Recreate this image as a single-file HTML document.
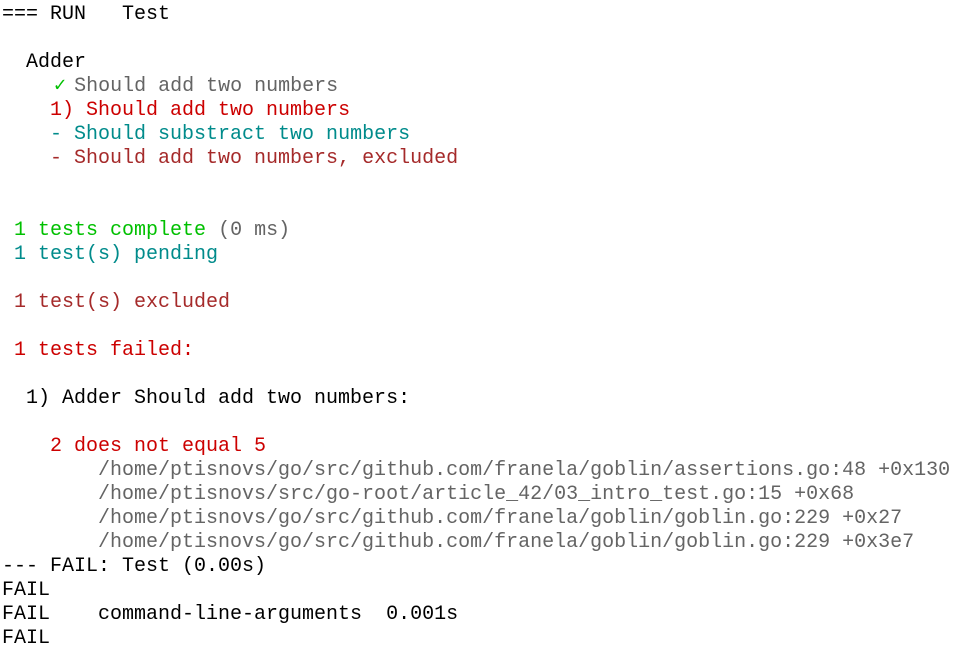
<!DOCTYPE html>
<html><head><meta charset="utf-8"><style>
html,body{margin:0;padding:0;background:#fff;width:959px;height:649px;overflow:hidden}
pre{margin:0;padding:3px 0 0 2px;font-family:"Liberation Mono","DejaVu Sans Mono",monospace;font-size:20px;line-height:24px;color:#000;white-space:pre}
.g{color:#646464}.r{color:#cc0000}.t{color:#008b8b}.b{color:#a52a2a}.gr{color:#00c000}
.ck{position:relative;left:4px;font-weight:bold}
</style></head><body><pre>=== RUN   Test

  Adder
    <span class="gr ck">✓</span> <span class="g">Should add two numbers</span>
    <span class="r">1) Should add two numbers</span>
    <span class="t">- Should substract two numbers</span>
    <span class="b">- Should add two numbers, excluded</span>


 <span class="gr">1 tests complete</span> <span class="g">(0 ms)</span>
 <span class="t">1 test(s) pending</span>

 <span class="b">1 test(s) excluded</span>

 <span class="r">1 tests failed:</span>

  1) Adder Should add two numbers:

    <span class="r">2 does not equal 5</span>
<span class="g">        /home/ptisnovs/go/src/github.com/franela/goblin/assertions.go:48 +0x130
        /home/ptisnovs/src/go-root/article_42/03_intro_test.go:15 +0x68
        /home/ptisnovs/go/src/github.com/franela/goblin/goblin.go:229 +0x27
        /home/ptisnovs/go/src/github.com/franela/goblin/goblin.go:229 +0x3e7</span>
--- FAIL: Test (0.00s)
FAIL
FAIL    command-line-arguments  0.001s
FAIL</pre></body></html>
